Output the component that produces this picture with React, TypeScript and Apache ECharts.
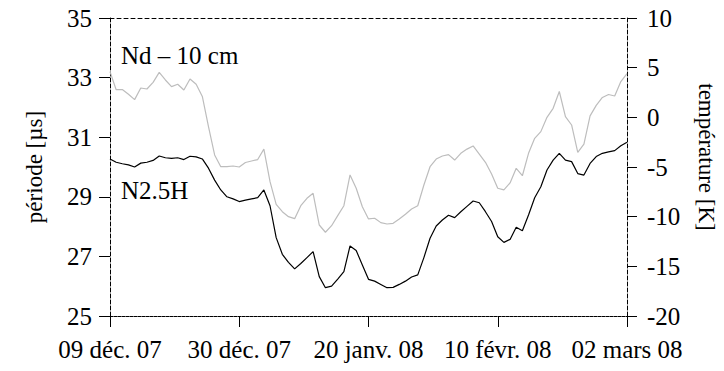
import React, { useEffect, useRef } from "react";
import * as echarts from "echarts";

// Daily samples, 09 Dec 2007 -> 02 Mar 2008
const startDate = "2007-12-09";
const frenchMonths = ["janv.", "févr.", "mars", "avr.", "mai", "juin", "juil.", "août", "sept.", "oct.", "nov.", "déc."];

// N2.5H period [µs] (left axis)
const periodN25H = [
  30.27, 30.16, 30.11, 30.07, 30.0, 30.13, 30.16, 30.22, 30.37, 30.31,
  30.29, 30.31, 30.25, 30.36, 30.34, 30.27, 29.96, 29.56, 29.23, 29.0,
  28.93, 28.84, 28.89, 28.93, 28.97, 29.23, 28.7, 27.63, 27.07, 26.8,
  26.58, 26.76, 26.96, 27.16, 26.32, 25.95, 26.0, 26.24, 26.49, 27.35,
  27.2, 26.71, 26.23, 26.17, 26.06, 25.95, 25.96, 26.06, 26.17, 26.31,
  26.38, 26.96, 27.61, 28.02, 28.22, 28.38, 28.3, 28.5, 28.68, 28.86,
  28.8, 28.5, 28.17, 27.66, 27.47, 27.57, 27.98, 27.86, 28.39, 28.97,
  29.34, 29.9, 30.23, 30.46, 30.23, 30.18, 29.78, 29.73, 30.12, 30.35,
  30.46, 30.51, 30.55, 30.71, 30.83,
];

// Nd – 10 cm temperature [K] (right axis)
const temperatureNd10 = [
  4.6, 2.78, 2.8, 2.32, 1.78, 2.95, 2.85, 3.52, 4.52, 3.76,
  3.09, 3.33, 2.75, 3.86, 3.33, 2.1, -0.94, -3.79, -4.97, -4.97,
  -4.9, -5.0, -4.55, -4.4, -4.25, -3.2, -6.48, -8.76, -9.5, -10.0,
  -10.2, -8.9, -8.15, -7.65, -10.84, -11.57, -10.91, -9.9, -8.9, -5.8,
  -7.14, -9.0, -10.23, -10.16, -10.6, -10.74, -10.67, -10.23, -9.76, -9.23,
  -8.9, -6.81, -4.97, -4.2, -3.89, -3.75, -4.3, -3.62, -3.2, -2.88,
  -3.7, -4.53, -5.7, -7.14, -7.31, -6.6, -5.13, -5.88, -3.62, -2.11,
  -1.44, 0.0, 0.91, 2.6, 0.07, -0.77, -3.52, -2.7, 0.15, 1.2,
  2.0, 2.3, 2.15, 3.6, 4.4,
];

const leftAxis = { min: 25, max: 35, interval: 2 };
const rightAxis = { min: -20, max: 10, interval: 5 };
const labelEvery = 21;

const FONT = "'Liberation Serif', 'Times New Roman', serif";

function buildDates(n: number): string[] {
  const out: string[] = [];
  const d0 = new Date(startDate + "T12:00:00Z");
  for (let i = 0; i < n; i++) {
    const d = new Date(d0.getTime() + i * 86400000);
    const dd = String(d.getUTCDate()).padStart(2, "0");
    const mm = frenchMonths[d.getUTCMonth()];
    const yy = String(d.getUTCFullYear() % 100).padStart(2, "0");
    out.push(`${dd} ${mm} ${yy}`);
  }
  return out;
}

export default function App() {
  const ref = useRef<HTMLDivElement>(null);
  useEffect(() => {
    if (!ref.current) return;
    const chart = echarts.init(ref.current, null, { renderer: "svg" });
    const dates = buildDates(periodN25H.length);
    const axisLineDashed = { show: true, lineStyle: { color: "#000", width: 1, type: [4, 2] as any } };
    chart.setOption({
      animation: false,
      backgroundColor: "#fff",
      grid: { left: 110, right: 97, top: 18, bottom: 55, containLabel: false },
      xAxis: [
        {
          type: "category",
          data: dates,
          boundaryGap: false,
          axisLine: { show: true, onZero: false, lineStyle: { color: "#000", width: 1, type: [3, 1] as any } },
          axisTick: { show: true, inside: false, length: 11, interval: labelEvery - 1, lineStyle: { color: "#000" } },
          axisLabel: {
            interval: labelEvery - 1,
            margin: 21,
            color: "#000",
            fontFamily: FONT,
            fontSize: 25,
            showMinLabel: true,
            showMaxLabel: true,
          },
          splitLine: { show: false },
        },
        {
          type: "category",
          data: dates,
          boundaryGap: false,
          position: "top",
          axisLine: { show: true, onZero: false, lineStyle: { color: "#000", width: 1, type: [4, 3] as any } },
          axisTick: { show: false },
          axisLabel: { show: false },
          splitLine: { show: false },
        },
      ],
      yAxis: [
        {
          type: "value",
          position: "left",
          min: leftAxis.min,
          max: leftAxis.max,
          interval: leftAxis.interval,
          axisLine: axisLineDashed,
          axisTick: { show: true, inside: false, length: 11, lineStyle: { color: "#000" } },
          axisLabel: { margin: 18, color: "#000", fontFamily: FONT, fontSize: 25 },
          splitLine: { show: false },
        },
        {
          type: "value",
          position: "right",
          min: rightAxis.min,
          max: rightAxis.max,
          interval: rightAxis.interval,
          axisLine: axisLineDashed,
          axisTick: { show: true, inside: false, length: 10, lineStyle: { color: "#000" } },
          axisLabel: { margin: 20, color: "#000", fontFamily: FONT, fontSize: 25 },
          splitLine: { show: false },
        },
      ],
      series: [
        {
          name: "Nd – 10 cm",
          type: "line",
          yAxisIndex: 1,
          data: temperatureNd10,
          showSymbol: false,
          symbol: "none",
          lineStyle: { color: "#bdbdbd", width: 1.2 },
          z: 2,
        },
        {
          name: "N2.5H",
          type: "line",
          yAxisIndex: 0,
          data: periodN25H,
          showSymbol: false,
          symbol: "none",
          lineStyle: { color: "#000", width: 1.2 },
          z: 3,
        },
      ],
      graphic: [
        {
          type: "text",
          x: 121,
          y: 55,
          style: { text: "Nd – 10 cm", font: `25px ${FONT}`, fill: "#000", textAlign: "left", textVerticalAlign: "middle" },
        },
        {
          type: "text",
          x: 121,
          y: 190,
          style: { text: "N2.5H", font: `25px ${FONT}`, fill: "#000", textAlign: "left", textVerticalAlign: "middle" },
        },
        {
          type: "text",
          x: 34,
          y: 167,
          rotation: Math.PI / 2,
          style: { text: "période [µs]", font: `23px ${FONT}`, fill: "#000", textAlign: "center", textVerticalAlign: "middle" },
        },
        {
          type: "text",
          x: 706,
          y: 157,
          rotation: -Math.PI / 2,
          style: { text: "température [K]", font: `23px ${FONT}`, fill: "#000", textAlign: "center", textVerticalAlign: "middle" },
        },
      ],
    });
    return () => chart.dispose();
  }, []);
  return <div ref={ref} style={{ position: "fixed", left: 0, top: 0, width: 724, height: 371 }} />;
}
